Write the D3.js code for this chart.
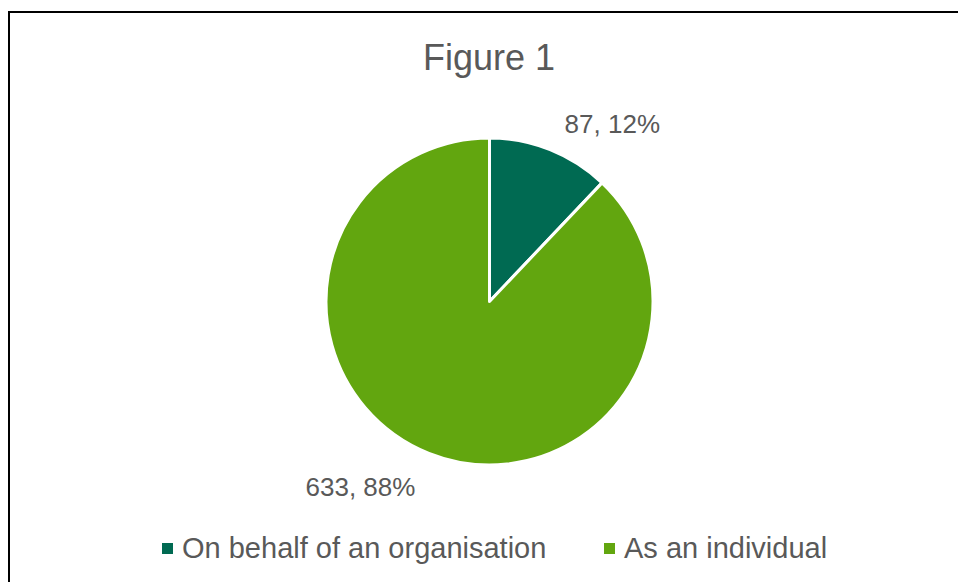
<!DOCTYPE html>
<html>
<head>
<meta charset="utf-8">
<script src="https://cdn.jsdelivr.net/npm/d3@7"></script>
<style>
  html, body { margin: 0; padding: 0; background: #fff; }
  svg { display: block; font-family: "Liberation Sans", Arial, sans-serif; }
</style>
</head>
<body>
<svg id="chart" width="958" height="582"></svg>
<script>
// Respondent types and counts
const categories = ["On behalf of an organisation", "As an individual"];
const counts = [87, 633];
const percentLabels = ["12%", "88%"];
const sliceColors = ["#006A52", "#62A60F"];
const chartTitle = "Figure 1";

const svg = d3.select("#chart");
const W = 958, H = 582;
const textColor = "#595959";

// Chart frame
svg.append("rect")
  .attr("x", 9).attr("y", 12)
  .attr("width", W + 10).attr("height", H + 10)
  .attr("fill", "#fff")
  .attr("stroke", "#000").attr("stroke-width", 2);

// Title
svg.append("text")
  .attr("x", 489).attr("y", 70)
  .attr("text-anchor", "middle")
  .attr("font-size", 36)
  .attr("fill", textColor)
  .text(chartTitle);

const cx = 489.5, cy = 301.5, radius = 163.5;

const data = categories.map((c, i) => ({ name: c, value: counts[i], pct: percentLabels[i], color: sliceColors[i] }));

const pie = d3.pie().value(d => d.value).sort(null);
const arcs = pie(data);
const arc = d3.arc().innerRadius(0).outerRadius(radius);
const labelArc = d3.arc().innerRadius(200).outerRadius(200);

const g = svg.append("g").attr("transform", `translate(${cx},${cy})`);

g.selectAll("path.slice")
  .data(arcs)
  .enter().append("path")
  .attr("class", "slice")
  .attr("d", arc)
  .attr("fill", d => d.data.color)
  .attr("stroke", "#fff")
  .attr("stroke-width", 3)
  .attr("stroke-linejoin", "round");

// Data labels outside the slices
g.selectAll("text.label")
  .data(arcs)
  .enter().append("text")
  .attr("class", "label")
  .each(function(d) {
    const [x, y] = labelArc.centroid(d);
    const right = x >= 0;
    d3.select(this)
      .attr("x", right ? x + 1 : x)
      .attr("y", y < 0 ? y + 17.5 : y + 9)
      .attr("text-anchor", right ? "start" : "end");
  })
  .attr("font-size", 26)
  .attr("fill", textColor)
  .text(d => `${d.data.value}, ${d.data.pct}`);

// Legend
const legendX = [162, 604];
const legend = svg.append("g");
data.forEach((d, i) => {
  legend.append("rect")
    .attr("x", legendX[i]).attr("y", 543)
    .attr("width", 11).attr("height", 11)
    .attr("fill", d.color);
  legend.append("text")
    .attr("x", legendX[i] + 20).attr("y", 558)
    .attr("font-size", 29)
    .attr("fill", textColor)
    .text(d.name);
});
</script>
</body>
</html>
